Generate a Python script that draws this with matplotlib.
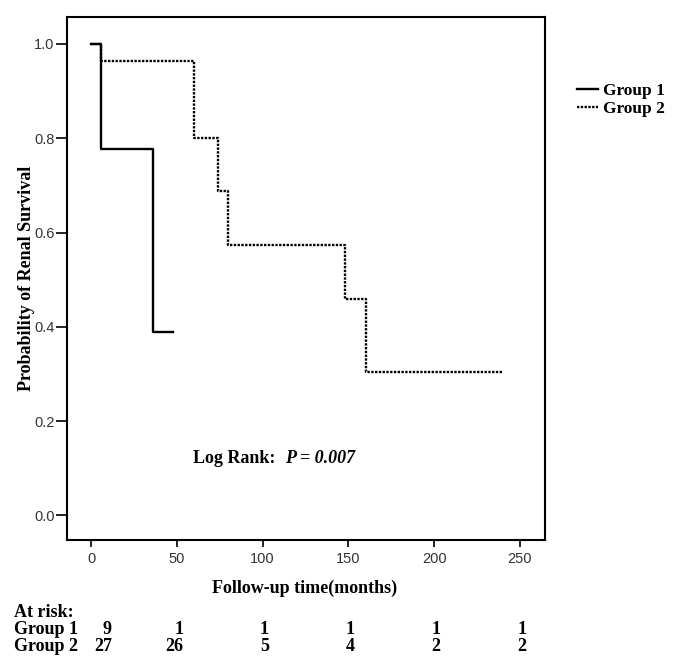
import matplotlib
matplotlib.use("Agg")
import matplotlib.pyplot as plt
import matplotlib.transforms as mtransforms

# Kaplan-Meier steps
g1_time = [0, 6, 36, 48]
g1_surv = [1.0, 0.778, 0.389, 0.389]
g2_time = [0, 6, 60, 74, 80, 148, 160, 240]
g2_surv = [1.0, 0.963, 0.80, 0.687, 0.573, 0.458, 0.305, 0.305]

# numbers at risk
risk_times = [0, 50, 100, 150, 200, 250]
risk_g1 = [9, 1, 1, 1, 1, 1]
risk_g2 = [27, 26, 5, 4, 2, 2]

xticks = [0, 50, 100, 150, 200, 250]
yticks = [0.0, 0.2, 0.4, 0.6, 0.8, 1.0]

serif = "Liberation Serif"
tickfont = ["Liberation Sans Narrow", "Liberation Sans"]

fig = plt.figure(figsize=(6.85, 6.65), dpi=100)
ax = fig.add_axes([0.0978, 0.188, 0.6978, 0.7864])

ax.step(g2_time, g2_surv, where="post", color="black", lw=1.7,
        linestyle=(0, (1.0, 0.6)), label="Group 2")
ax.step(g1_time, g1_surv, where="post", color="black", lw=1.7, label="Group 1")

ax.set_xlim(-14, 264.6)
ax.set_ylim(-0.052, 1.057)
ax.set_xticks(xticks)
ax.set_yticks(yticks)
ax.set_xticklabels([str(t) for t in xticks], family=tickfont, fontsize=10.5, color="#333333")
ax.set_yticklabels(["%.1f" % v for v in yticks], family=tickfont, fontsize=10.5, color="#333333")
ax.tick_params(axis="y", length=8, width=1.2, pad=1)
ax.tick_params(axis="x", length=5, width=1.2, pad=4)
for s in ax.spines.values():
    s.set_linewidth(1.5)

ax.set_xlabel("Follow-up time(months)", family=serif, fontweight="bold", fontsize=13)
ax.xaxis.set_label_coords(0.497, -0.075)
ax.set_ylabel("Probability of Renal Survival", family=serif, fontweight="bold", fontsize=13)
ax.yaxis.set_label_coords(-0.066, 0.5)

ax.text(0.264, 0.155, "Log Rank:", transform=ax.transAxes, family=serif,
        fontweight="bold", fontsize=13, ha="left", va="center")
ax.text(0.456, 0.155, "P = 0.007", transform=ax.transAxes, family=serif,
        fontweight="bold", style="italic", fontsize=13, ha="left", va="center")

h, l = ax.get_legend_handles_labels()
fig.legend(h[::-1], l[::-1], loc="upper left", bbox_to_anchor=(0.842, 0.875),
           frameon=False, prop={"family": serif, "weight": "bold", "size": 12.5},
           handlelength=1.2, handletextpad=0.3, labelspacing=0.1,
           borderpad=0, borderaxespad=0)

# at-risk table
tr = mtransforms.blended_transform_factory(ax.transData, fig.transFigure)
fig.text(0.02, 0.079, "At risk:", family=serif, fontweight="bold", fontsize=13, va="center")
fig.text(0.02, 0.053, "Group 1", family=serif, fontweight="bold", fontsize=13, va="center")
fig.text(0.02, 0.028, "Group 2", family=serif, fontweight="bold", fontsize=13, va="center")
for i, t in enumerate(risk_times):
    dx = 15 if i == 0 else 4.5
    off = mtransforms.offset_copy(tr, fig=fig, x=dx, y=0, units="points")
    ax.text(t, 0.053, str(risk_g1[i]), transform=off, family=serif, fontweight="bold",
            fontsize=13, ha="right", va="center", clip_on=False)
    ax.text(t, 0.028, str(risk_g2[i]), transform=off, family=serif, fontweight="bold",
            fontsize=13, ha="right", va="center", clip_on=False)

fig.savefig("out.png", dpi=100)
